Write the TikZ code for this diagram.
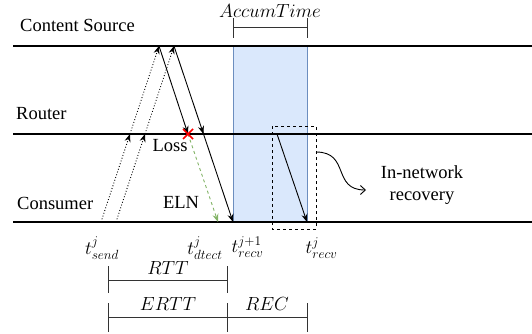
\RequirePackage{fix-cm}
\documentclass[tikz,border=0pt]{standalone}
\usepackage{fontspec}
\setmainfont{Liberation Serif}
\DeclareMathSizes{18.5}{19}{13.3}{10}
\usetikzlibrary{arrows.meta,decorations.markings,calc}
\definecolor{accfill}{HTML}{DAE8FC}
\definecolor{accdraw}{HTML}{6C8EBF}
\definecolor{elngreen}{HTML}{82B366}
\tikzset{
  tl/.style={line width=1.1pt,black},
  tip/.style={-{Stealth[length=8pt,width=6pt]}},
  midtip/.style={postaction={decorate},decoration={markings,mark=at position 0.5 with {\arrow{Stealth[length=8pt,width=6pt]}}}},
  pkt/.style={line width=0.9pt},
  brk/.style={line width=1pt,black!80},
  lbl/.style={inner sep=0pt},
}
\begin{document}
\begin{tikzpicture}[x=1pt,y=-1pt,font=\fontsize{18.5}{22}\selectfont]
\useasboundingbox (0,0) rectangle (532,334);
% accumulation region
\draw[fill=accfill,draw=accdraw,line width=1pt] (233,46) rectangle (307,222);
% time lines
\coordinate (csL) at (13,46);  \coordinate (csR) at (532,46);
\coordinate (rtL) at (13,134); \coordinate (rtR) at (532,134);
\coordinate (coL) at (13,222); \coordinate (coR) at (532,222);
\draw[tl] (csL) -- (csR);
\draw[tl] (rtL) -- (rtR);
\draw[tl] (coL) -- (coR);
\node[lbl,anchor=west] (cs) at (20,25) {Content Source};
\node[lbl,anchor=west] (rt) at (16,114) {Router};
\node[lbl,anchor=west] (co) at (17,203) {Consumer};
% interests (dotted)
\coordinate (i1s) at (101,222); \coordinate (i1e) at (159,46);
\coordinate (i2s) at (116,222); \coordinate (i2e) at (174,46);
\draw[pkt,dotted,tip,midtip] (i1s) -- (i1e);
\draw[pkt,dotted,tip,midtip] (i2s) -- (i2e);
% data packets
\coordinate (lossp) at (188,134);
\coordinate (d2e) at (233,222);
\draw[pkt,tip] (i1e) -- (lossp);
\draw[pkt,tip,midtip] (i2e) -- (d2e);
% ELN
\coordinate (elne) at (218,222);
\draw[pkt,dashed,elngreen,tip] (lossp) -- (elne);
\draw[red,line width=1.6pt] ($(lossp)+(-5,-5)$) -- ($(lossp)+(5,5)$);
\draw[red,line width=1.6pt] ($(lossp)+(-5,5)$) -- ($(lossp)+(5,-5)$);
\node[lbl] (loss) at (170,146) {Loss};
\node[lbl] (eln) at (181,202) {ELN};
% in-network recovery
\draw[dashed,line width=0.9pt] (272,126) rectangle (316,229);
\coordinate (r1s) at (277,134); \coordinate (r1e) at (307,222);
\draw[pkt,tip] (r1s) -- (r1e);
\node[lbl,align=center] (inr) at (422,185) {In-network\\recovery};
\coordinate (cvs) at (316,152); \coordinate (cve) at (366,190);
\draw[pkt,-{Straight Barb[length=5pt,width=9pt]}] (cvs) to[out=0,in=180,looseness=1.4] (cve);
% time labels
\node[lbl] (tsend) at (102,248) {$t^{j}_{send}$};
\node[lbl] (tdt) at (205,248) {$t^{j}_{dtect}$};
\node[lbl] (trv1) at (247.5,247) {$t^{j+1}_{recv}$};
\node[lbl] (trv) at (321.5,248) {$t^{j}_{recv}$};
% AccumTime bracket
\draw[brk] (233,28) -- (307,28);
\draw[brk] (233,18) -- (233,38);
\draw[brk] (307,18) -- (307,38);
\node[lbl] (acc) at (270,11) {$AccumTime$};
% RTT bracket
\draw[brk] (108,280) -- (227,280);
\draw[brk] (108,266) -- (108,293);
\draw[brk] (227,266) -- (227,293);
\node[lbl] (rtt) at (168,268) {$RTT$};
% ERTT / REC bracket
\draw[brk] (108,317) -- (307,317);
\draw[brk] (108,303) -- (108,332);
\draw[brk] (227,303) -- (227,332);
\draw[brk] (307,303) -- (307,332);
\node[lbl] (ertt) at (168,304) {$ERTT$};
\node[lbl] (rec) at (267,304) {$REC$};
\end{tikzpicture}
\end{document}
